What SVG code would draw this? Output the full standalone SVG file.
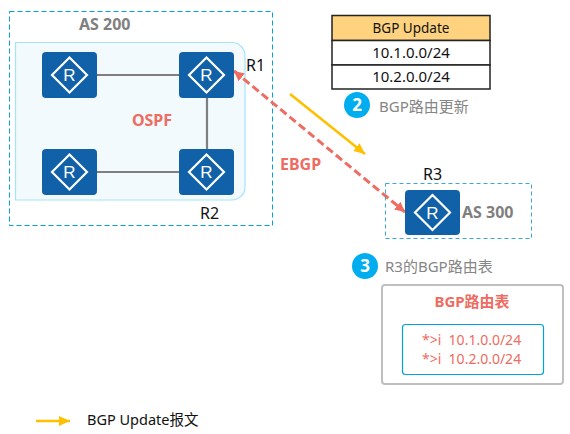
<svg xmlns="http://www.w3.org/2000/svg" width="570" height="434" viewBox="0 0 570 434">
<style>
text{font-family:"Noto Sans","Open Sans","Noto Sans CJK SC",sans-serif}
.b{font-weight:700}
.m{text-anchor:middle}
.k{font-size:15px;fill:#111}
.g{font-size:15px;fill:#868686}
.n{font-size:16px;fill:#111}
.r{fill:#ee6c61}
.tile{fill:#1161a9}
.dia{fill:none;stroke:#fff;stroke-width:2.2}
.rt{font-size:17px;fill:#fff;text-anchor:middle;font-family:"Liberation Sans",sans-serif}
.link{stroke:#7f7f7f;stroke-width:2.2;fill:none}
.cell{stroke:#222;stroke-width:1.5}
.badge{fill:#00aeef}
.bt{font-size:17px;font-weight:700;fill:#fff;text-anchor:middle}
</style>
<defs>
<marker id="ah" markerUnits="userSpaceOnUse" markerWidth="12" markerHeight="12" refX="10" refY="5" orient="auto-start-reverse"><path d="M0 0L10 5L0 10Z" fill="#ee6c61"/></marker>
<marker id="ay" markerUnits="userSpaceOnUse" markerWidth="14" markerHeight="12" refX="11" refY="5" orient="auto"><path d="M0 0L11 5L0 10Z" fill="#ffc000"/></marker>
</defs>
<g id="as200"><rect x="9.500" y="11.500" width="263" height="214" fill="none" stroke="#00a2e0" stroke-dasharray="5 3"/><text class="b" x="79" y="30" font-size="16" fill="#7f7f7f">AS 200</text></g>
<g id="ospf"><path d="M15.500 42.500H232a13 13 0 0 1 13 13V187a13 13 0 0 1-13 13H15.500Z" fill="#f2fafd" stroke="#a6e3f8" stroke-width="1.2"/><text class="b r" x="152" y="126" font-size="16" text-anchor="middle">OSPF</text></g>
<g id="connectors">
<path class="link" d="M97 75H179M97 172H179M207 98V149"/>
<path d="M234 71L405 212" fill="none" stroke="#ee6c61" stroke-width="3" stroke-dasharray="8 4" marker-start="url(#ah)" marker-end="url(#ah)"/>
<path d="M290 94L365 154" fill="none" stroke="#ffc000" stroke-width="2.600" marker-end="url(#ay)"/>
</g>
<g id="router-tl"><rect class="tile" x="42" y="52" width="55" height="46" rx="4"/><path class="dia" d="M69.500 57.500L87 75L69.500 92.500L52 75Z"/><text class="rt" x="69.500" y="81">R</text></g>
<g id="router-r1"><rect class="tile" x="179" y="52" width="55" height="46" rx="4"/><path class="dia" d="M206.500 57.500L224 75L206.500 92.500L189 75Z"/><text class="rt" x="206.500" y="81">R</text><text class="n" x="246" y="71">R1</text></g>
<g id="router-bl"><rect class="tile" x="42" y="149" width="55" height="46" rx="4"/><path class="dia" d="M69.500 154.500L87 172L69.500 189.500L52 172Z"/><text class="rt" x="69.500" y="178">R</text></g>
<g id="router-r2"><rect class="tile" x="179" y="149" width="55" height="46" rx="4"/><path class="dia" d="M206.500 154.500L224 172L206.500 189.500L189 172Z"/><text class="rt" x="206.500" y="178">R</text><text class="n" x="200" y="219">R2</text></g>
<g id="ebgp-label"><text class="b r" x="280" y="170" font-size="16">EBGP</text></g>
<g id="update-table">
<rect class="cell" x="332" y="15.500" width="158" height="25" fill="#ffd27f"/>
<rect class="cell" x="332" y="40.500" width="158" height="24.500" fill="#fff"/>
<rect class="cell" x="332" y="65" width="158" height="24" fill="#fff"/>
<text class="m" x="411" y="33" font-size="13.500" fill="#111">BGP Update</text>
<text class="k m" x="411" y="58">10.1.0.0/24</text>
<text class="k m" x="411" y="82">10.2.0.0/24</text>
</g>
<g id="step2"><circle class="badge" cx="357" cy="105" r="13"/><text class="bt" x="357" y="111">2</text><text class="g" x="379" y="112">BGP路由更新</text></g>
<g id="as300"><rect x="385.500" y="183.500" width="146" height="55" fill="none" stroke="#3aa6dc" stroke-dasharray="4 3"/></g>
<g id="router-r3"><text class="n" x="423" y="180">R3</text><rect class="tile" x="405" y="190" width="55" height="45" rx="4"/><path class="dia" d="M432.500 195L450 212.500L432.500 230L415 212.500Z"/><text class="rt" x="432.500" y="218.500">R</text><text class="b" x="462" y="218" font-size="16" fill="#7f7f7f">AS 300</text></g>
<g id="step3"><circle class="badge" cx="365" cy="266" r="13"/><text class="bt" x="365" y="272">3</text><text class="g" x="385" y="272">R3的BGP路由表</text></g>
<g id="bgp-table"><rect x="382" y="285" width="181" height="99" rx="3" fill="#fff" stroke="#bfbfbf" stroke-width="2"/><text class="b r m" x="472" y="307" font-size="15">BGP路由表</text><rect x="402.500" y="324.500" width="141" height="50" rx="3" fill="#fff" stroke="#00a2e0" stroke-width="1.2"/><text class="r" x="422" y="345" font-size="14" xml:space="preserve">*&gt;i  10.1.0.0/24</text><text class="r" x="422" y="364" font-size="14" xml:space="preserve">*&gt;i  10.2.0.0/24</text></g>
<g id="legend"><path d="M36 421H70" fill="none" stroke="#ffc000" stroke-width="2.600" marker-end="url(#ay)"/><text x="87" y="425" font-size="14.500" fill="#111">BGP Update报文</text></g>
</svg>
